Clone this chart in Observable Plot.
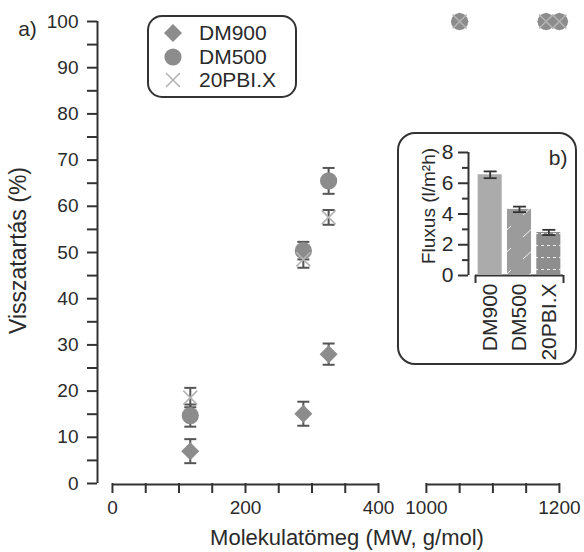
<!DOCTYPE html>
<html><head><meta charset="utf-8">
<script src="https://cdn.jsdelivr.net/npm/d3@7"></script>
<script src="https://cdn.jsdelivr.net/npm/@observablehq/plot@0.6"></script>
<style>
body{margin:0;background:#fff;font-family:"Liberation Sans",Arial,sans-serif;color:#2a2a2a;}
#wrap{position:relative;width:584px;height:552px;overflow:hidden;}
#main{position:absolute;left:0;top:0;}
#legend{position:absolute;left:147px;top:15px;width:150px;height:83px;border:2px solid #333;border-radius:15px;box-sizing:border-box;background:#fff;}
.lrow{position:absolute;left:0;height:24px;display:flex;align-items:center;font-size:21px;}
#insetBox{position:absolute;left:397px;top:132px;width:180px;height:233px;border:2px solid #333;border-radius:18px;box-sizing:border-box;background:#fff;}
#insetPlot{position:absolute;left:397px;top:132px;}
</style></head>
<body><div id="wrap"><div id="main"></div><div id="legend"></div><div id="insetBox"></div><div id="insetPlot"></div></div>
<script>
// ---------- data (main chart a) ----------
const series = ["DM900", "DM500", "20PBI.X"];
const mw = [117, 287, 325, 1050, 1180, 1200];
const retDM900 = [7.0, 15.1, 28.0, 100, 100, 100];
const errDM900 = [2.6, 2.6, 2.3, 0, 0, 0];
const retDM500 = [14.7, 50.4, 65.5, 100, 100, 100];
const errDM500 = [2.4, 1.9, 2.8, 0, 0, 0];
const retPBI = [18.6, 48.5, 57.6, 100, 100, 100];
const errPBI = [2.1, 1.8, 1.6, 0, 0, 0];
const xMajorTicks = [0, 200, 400, 1000, 1200];
const xMinorTicks = [50, 100, 150, 250, 300, 350, 1050, 1100, 1150];
const yMajorTicks = [0, 10, 20, 30, 40, 50, 60, 70, 80, 90, 100];
const yMinorTicks = [5, 15, 25, 35, 45, 55, 65, 75, 85, 95];

// ---------- data (inset b) ----------
const fluxCats = ["DM900", "DM500", "20PBI.X"];
const flux = [6.55, 4.3, 2.8];
const fluxErr = [0.22, 0.18, 0.17];
const fluxTicks = [0, 2, 4, 6, 8];
const fluxMinor = [1, 3, 5, 7];

// ---------- broken axis helpers ----------
const breakFrom = 400, breakTo = 1000, gap = 72;
const fx = m => m >= breakTo ? m - breakTo + breakFrom + gap : m;
const fxInv = v => v > breakFrom + 1 ? v - gap - breakFrom + breakTo : v;
const xDomain = [-22.5, 697.7];

const rows = [];
[[retDM900, errDM900, "DM900"], [retDM500, errDM500, "DM500"], [retPBI, errPBI, "20PBI.X"]].forEach(([r, e, s]) => {
  mw.forEach((m, i) => rows.push({series: s, mw: m, ret: r[i], err: e[i]}));
});
const errRows = rows.filter(d => d.err > 0);

const sz = size => Math.sqrt(size / Math.PI);
const diamondSym = {draw(c, size) { const r = sz(size); c.moveTo(0, -r); c.lineTo(r, 0); c.lineTo(0, r); c.lineTo(-r, 0); c.closePath(); }};
const crossSym = {draw(c, size) { const r = sz(size); c.moveTo(-r, -r); c.lineTo(r, r); c.moveTo(-r, r); c.lineTo(r, -r); }};
const capSym = {draw(c, size) { const r = sz(size); c.moveTo(-r, 0); c.lineTo(r, 0); }};

const ink = "#333";
const markFill = "#8c8c8c";
const font = "'Liberation Sans', Arial, sans-serif";

const main = Plot.plot({
  width: 584, height: 552,
  marginLeft: 97, marginRight: 8, marginTop: 21, marginBottom: 69,
  x: {domain: xDomain},
  y: {domain: [0, 100]},
  style: {fontFamily: font, fontSize: "19px", color: "#2a2a2a", background: "transparent"},
  marks: [
    Plot.axisY({ticks: yMajorTicks, tickSize: 10, tickPadding: 9, label: null, stroke: ink, strokeWidth: 2, fontSize: 19}),
    Plot.axisY({ticks: yMinorTicks, tickSize: 10, tickFormat: () => "", label: null, stroke: ink, strokeWidth: 2}),
    Plot.ruleX([xDomain[0]], {y1: 0, y2: 100, stroke: ink, strokeWidth: 2}),
    Plot.axisX({ticks: xMajorTicks.map(fx), tickSize: 10, tickPadding: 7, label: null, stroke: ink, strokeWidth: 2, fontSize: 19,
      tickFormat: v => String(Math.round(fxInv(v)))}),
    Plot.axisX({ticks: xMinorTicks.map(fx), tickSize: 10, tickFormat: () => "", label: null, stroke: ink, strokeWidth: 2}),
    Plot.ruleY([[0, 400], [1000, 1200]], {x1: d => fx(d[0]), x2: d => fx(d[1]), y: 0, dy: 1, stroke: ink, strokeWidth: 2}),
    // error bars
    Plot.ruleX(errRows, {x: d => fx(d.mw), y1: d => d.ret - d.err, y2: d => d.ret + d.err, stroke: "#555", strokeWidth: 2}),
    Plot.dot(errRows, {x: d => fx(d.mw), y: d => d.ret - d.err, symbol: capSym, r: 6, stroke: "#555", strokeWidth: 2}),
    Plot.dot(errRows, {x: d => fx(d.mw), y: d => d.ret + d.err, symbol: capSym, r: 6, stroke: "#555", strokeWidth: 2}),
    // markers
    Plot.dot(rows.filter(d => d.series === "DM900"), {x: d => fx(d.mw), y: "ret", symbol: diamondSym, r: 9, fill: markFill, stroke: "none"}),
    Plot.dot(rows.filter(d => d.series === "DM500"), {x: d => fx(d.mw), y: "ret", symbol: "circle", r: 8.6, fill: markFill, stroke: "none"}),
    Plot.dot(rows.filter(d => d.series === "20PBI.X"), {x: d => fx(d.mw), y: "ret", symbol: crossSym, r: 7, stroke: "#b4b4b4", strokeWidth: 1.6, fill: "none"}),
    // titles
    Plot.text(["Visszatartás (%)"], {frameAnchor: "left", textAnchor: "middle", rotate: -90, dx: -79, dy: -2, fontSize: 23, fill: "#2a2a2a"}),
    Plot.text(["Molekulatömeg (MW, g/mol)"], {frameAnchor: "bottom", dy: 61, dx: 10, fontSize: 22, fill: "#2a2a2a"}),
    Plot.text(["a)"], {frameAnchor: "top-left", textAnchor: "middle", dx: -70, fontSize: 21, fill: "#2a2a2a"})
  ]
});
document.getElementById("main").append(main);

// ---------- legend ----------
const legend = document.getElementById("legend");
const icons = {
  "DM900": `<polygon points="10,1 19,10 10,19 1,10" fill="${markFill}"/>`,
  "DM500": `<circle cx="10" cy="10" r="8.6" fill="${markFill}"/>`,
  "20PBI.X": `<path d="M3,3L17,17M3,17L17,3" stroke="#b4b4b4" stroke-width="1.6" fill="none"/>`
};
series.forEach((s, i) => {
  const row = document.createElement("div");
  row.className = "lrow";
  row.style.top = (4 + i * 23.5) + "px";
  row.innerHTML = `<svg width="20" height="20" style="margin-left:14px;margin-right:16px">${icons[s]}</svg><span>${s}</span>`;
  legend.append(row);
});

// ---------- inset b ----------
const fluxRows = fluxCats.map((c, i) => ({i, cat: c, v: flux[i], e: fluxErr[i],
  fill: ["#ababab", "url(#patDiag)", "url(#patDash)"][i]}));
const ixDomain = [-0.739, 2.5];
const inset = Plot.plot({
  width: 180, height: 231,
  marginLeft: 71, marginRight: 14, marginTop: 20, marginBottom: 88,
  x: {domain: ixDomain},
  y: {domain: [0, 8]},
  color: {type: "identity"},
  style: {fontFamily: font, fontSize: "21px", color: "#2a2a2a", background: "transparent", overflow: "visible"},
  marks: [
    Plot.axisY({ticks: fluxTicks, tickSize: 10, tickPadding: 5, label: null, stroke: ink, strokeWidth: 2, fontSize: 21}),
    Plot.axisY({ticks: fluxMinor, tickSize: 6, tickFormat: () => "", label: null, stroke: ink, strokeWidth: 2}),
    Plot.ruleX([ixDomain[0]], {y1: 0, y2: 8, stroke: ink, strokeWidth: 2}),
    Plot.ruleY([0], {x1: -0.5, x2: fluxCats.length - 0.5, stroke: ink, strokeWidth: 2}),
    Plot.axisX({ticks: [-0.5, fluxCats.length - 0.5], tickSize: 8, tickFormat: () => "", label: null, stroke: ink, strokeWidth: 2}),
    Plot.axisX({ticks: fluxCats.map((c, i) => i), tickSize: 0, tickPadding: 8, tickRotate: -90, label: null, fontSize: 21,
      tickFormat: i => fluxCats[i]}),
    Plot.rectY(fluxRows, {x1: d => d.i - 0.41, x2: d => d.i + 0.41, y1: 0, y2: "v", fill: "fill"}),
    Plot.ruleX(fluxRows, {x: "i", y1: d => d.v - d.e, y2: d => d.v + d.e, stroke: ink, strokeWidth: 1.8}),
    Plot.dot(fluxRows, {x: "i", y: d => d.v - d.e, symbol: capSym, r: 6.5, stroke: ink, strokeWidth: 1.8}),
    Plot.dot(fluxRows, {x: "i", y: d => d.v + d.e, symbol: capSym, r: 6.5, stroke: ink, strokeWidth: 1.8}),
    Plot.text(["Fluxus (l/m²h)"], {frameAnchor: "left", textAnchor: "middle", rotate: -90, dx: -40, dy: -8, fontSize: 19, fill: "#2a2a2a"}),
    Plot.text(["b)"], {frameAnchor: "top-right", dx: 4, dy: -2, fontSize: 21, fill: "#2a2a2a"})
  ]
});
inset.insertAdjacentHTML("afterbegin", `<defs>
  <pattern id="patDiag" patternUnits="userSpaceOnUse" width="24" height="22">
    <rect width="24" height="22" fill="#9b9b9b"/>
    <line x1="6" y1="17" x2="18" y2="6" stroke="#f2f2f2" stroke-width="1"/>
  </pattern>
  <pattern id="patDash" patternUnits="userSpaceOnUse" width="6" height="12">
    <rect width="6" height="12" fill="#8e8e8e"/>
    <rect x="0" y="5" width="3" height="1" fill="#f2f2f2"/>
  </pattern>
</defs>`);
document.getElementById("insetPlot").append(inset);
</script>
</body></html>
